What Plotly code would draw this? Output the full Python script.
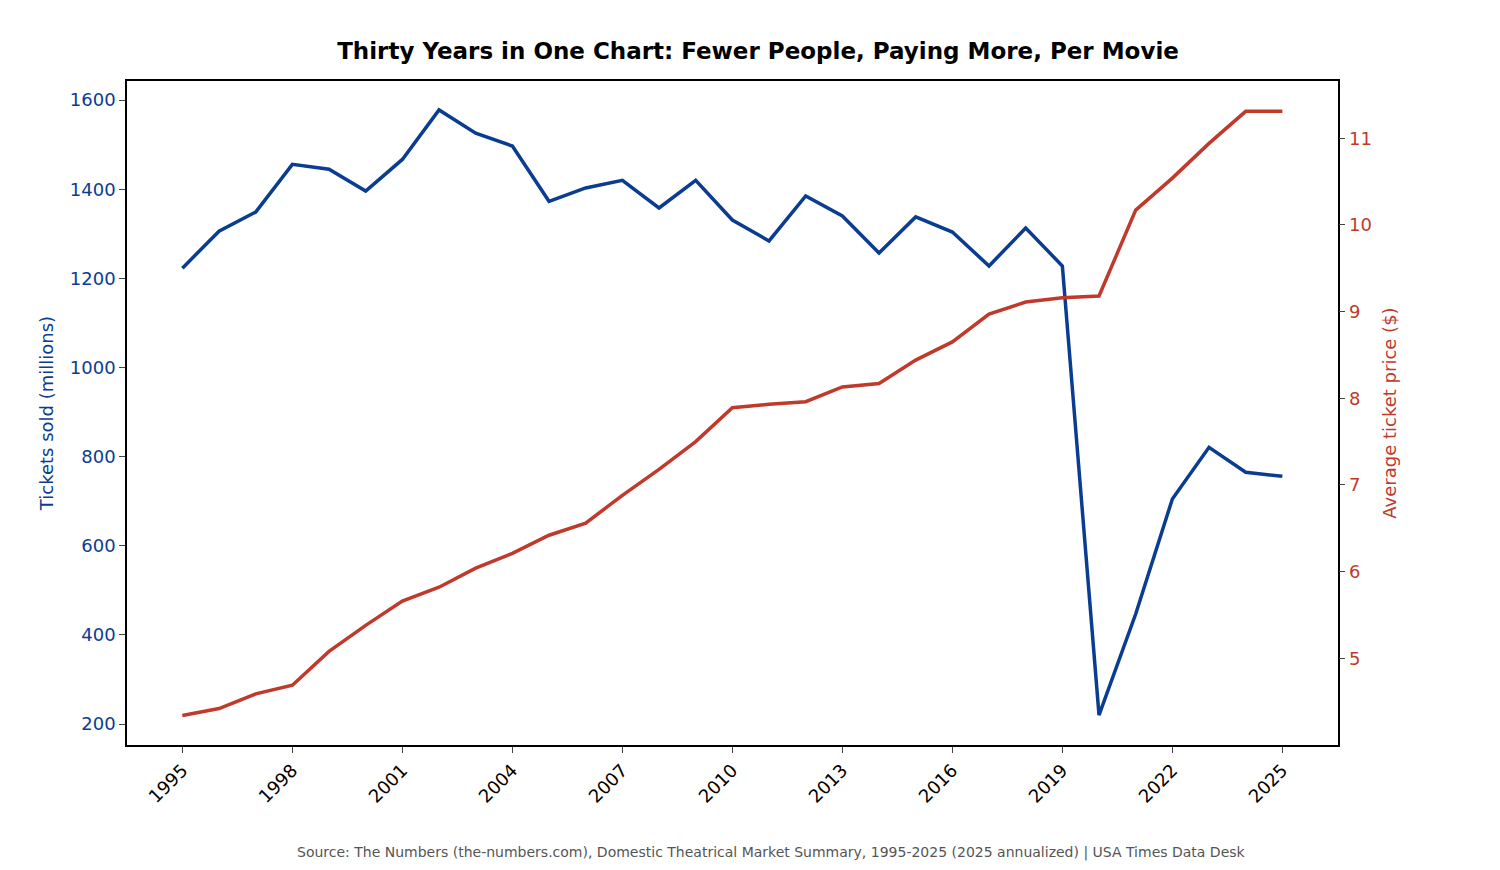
import plotly.graph_objects as go
from plotly.subplots import make_subplots

years = list(range(1995, 2026))
tickets = [1223, 1306, 1349, 1456, 1445, 1396, 1467, 1578, 1526, 1497,
           1373, 1403, 1420, 1358, 1420, 1331, 1284, 1385, 1340, 1257,
           1338, 1304, 1228, 1313, 1228, 220, 447, 705, 821, 765, 756]
prices = [4.34, 4.42, 4.59, 4.69, 5.08, 5.38, 5.66, 5.82, 6.04, 6.21,
          6.42, 6.56, 6.88, 7.18, 7.50, 7.89, 7.93, 7.96, 8.13, 8.17,
          8.44, 8.65, 8.97, 9.11, 9.16, 9.18, 10.17, 10.54, 10.94, 11.31, 11.31]
x_ticks = list(range(1995, 2026, 3))

blue = "#0a3d91"
red = "#c0392b"

fig = make_subplots(specs=[[{"secondary_y": True}]])
fig.add_trace(go.Scatter(x=years, y=tickets, mode="lines", line=dict(color=blue, width=3.5),
                         name="Tickets sold"), secondary_y=False)
fig.add_trace(go.Scatter(x=years, y=prices, mode="lines", line=dict(color=red, width=3.5),
                         name="Average ticket price"), secondary_y=True)

fig.update_layout(
    width=1500, height=870, showlegend=False,
    plot_bgcolor="white", paper_bgcolor="white",
    font=dict(family="DejaVu Sans", size=18, color="black"),
    margin=dict(l=119, r=93, t=73, b=133),
    title=dict(text="<b>Thirty Years in One Chart: Fewer People, Paying More, Per Movie</b>",
               x=0.5, xanchor="center", y=0.96, font=dict(size=23)),
)
fig.update_xaxes(range=[1993.49, 2026.51], tickvals=x_ticks, tickangle=-45, automargin=False,
                 showgrid=False, showline=True, linecolor="black", linewidth=1.5, mirror=True,
                 ticks="outside", ticklen=6, zeroline=False)
fig.update_yaxes(range=[153, 1643], tickvals=[200, 400, 600, 800, 1000, 1200, 1400, 1600],
                 title=dict(text="Tickets sold (millions)", font=dict(color=blue, size=18), standoff=12),
                 tickfont=dict(color=blue), showgrid=False, showline=True, linecolor="black", automargin=False,
                 linewidth=1.5, ticks="outside", ticklen=6, zeroline=False, secondary_y=False)
fig.update_yaxes(range=[4.0, 11.66], tickvals=[5, 6, 7, 8, 9, 10, 11],
                 title=dict(text="Average ticket price ($)", font=dict(color=red, size=18), standoff=12),
                 tickfont=dict(color=red), showgrid=False, showline=True, linecolor="black", automargin=False,
                 linewidth=1.5, ticks="outside", ticklen=6, zeroline=False, secondary_y=True)

fig.add_annotation(text="Source: The Numbers (the-numbers.com), Domestic Theatrical Market Summary, 1995-2025 (2025 annualized) | USA Times Data Desk",
                   xref="paper", yref="paper", x=0.5, y=-0.178, showarrow=False,
                   font=dict(size=14, color="#555555"))

fig.write_html("out.html")
